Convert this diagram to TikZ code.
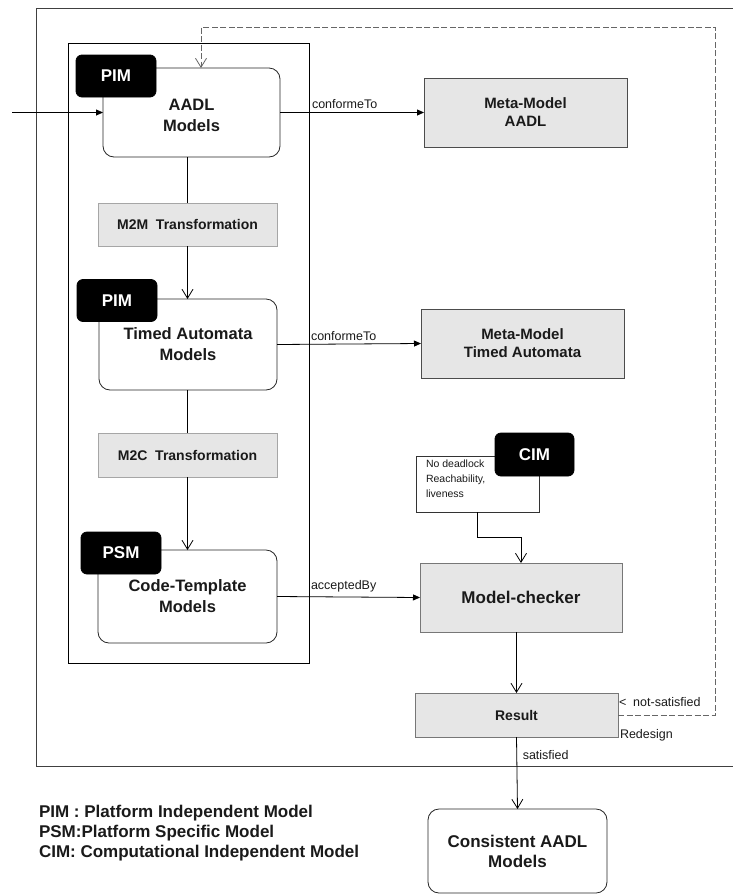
\documentclass[tikz,border=0pt]{standalone}
\usepackage{fontspec}
\setmainfont{Liberation Sans}
\usetikzlibrary{arrows.meta}
\definecolor{boxgrey}{HTML}{E6E6E6}
\definecolor{edgegrey}{HTML}{777777}
\definecolor{loopgrey}{HTML}{666666}
\definecolor{ink}{HTML}{1A1A1A}
\begin{document}
\begin{tikzpicture}[x=1pt,y=-1pt,line width=0.8pt,
  every node/.style={inner sep=0pt,outer sep=0pt,text=ink},
  model/.style={draw=black!85,fill=white,rounded corners=11pt,align=center,
    font=\fontsize{16.5}{21}\selectfont\bfseries},
  tag/.style={draw=black,fill=black,rounded corners=6pt,text=white,
    minimum width=80pt,minimum height=42pt,font=\fontsize{17}{20}\selectfont\bfseries},
  meta/.style={draw=black!70,fill=boxgrey,align=center,minimum width=203pt,minimum height=69pt,
    font=\fontsize{15}{18}\selectfont\bfseries},
  trans/.style={draw=black!35,fill=boxgrey,minimum width=179pt,minimum height=43pt,
    font=\fontsize{14}{16}\selectfont\bfseries},
  lbl/.style={font=\fontsize{12.5}{14}\selectfont},
  filled/.style={-{Triangle[length=7pt,width=6pt]}},
  openv/.style={-{Straight Barb[length=9pt,width=11pt,line width=0.8pt]}},
  frame/.style={draw=black!75,line width=0.9pt}
]
\useasboundingbox (0,0) rectangle (733,895);
\clip (0,0) rectangle (733,895);
\fill[white] (0,0) rectangle (733,895);

% outer frame (its right side lies beyond the page) and inner MDE column
\draw[frame] (745,8) -- (36,8) -- (36,766) -- (745,766);
\draw[line width=0.8pt] (68,43) rectangle (309,663);

% model column
\node[model,minimum width=177pt,minimum height=89pt] (aadl) at (191.5,112.5) {\\[-4pt]AADL\\Models};
\node[tag] (pim1) at (116,76) {PIM};
\node[trans] (m2m) at (187.5,224.5) {M2M\ \ Transformation};
\node[model,minimum width=178pt,minimum height=91pt] (ta) at (188,344.5) {Timed Automata\\Models};
\node[tag] (pim2) at (117,300.5) {PIM};
\node[trans,minimum height=44pt] (m2c) at (187.5,455) {M2C\ \ Transformation};
\node[model,minimum width=179pt,minimum height=93pt] (ct) at (187.5,596.5) {Code-Template\\Models};
\node[tag] (psm) at (121,553) {PSM};

% meta-models
\node[meta] (mmaadl) at (525.5,112.5) {Meta-Model\\AADL};
\node[meta] (mmta) at (522.5,343.5) {Meta-Model\\Timed Automata};

% properties and verification
\node[draw=black!80,fill=white,minimum width=123pt,minimum height=56pt] (props) at (477.5,484) {};
\node[anchor=north west,align=left,font=\fontsize{10.5}{15}\selectfont] (proptxt) at (426,460)
  {No deadlock\\Reachability,\\liveness};
\node[tag,minimum width=79pt,minimum height=43pt] (cim) at (534.5,454.5) {CIM};
\node[draw=edgegrey,fill=boxgrey,minimum width=202pt,minimum height=69pt,
  font=\fontsize{17}{20}\selectfont\bfseries] (mc) at (521,597.5) {Model-checker};
\node[draw=edgegrey,fill=boxgrey,minimum width=203pt,minimum height=44pt,
  font=\fontsize{14}{16}\selectfont\bfseries] (result) at (516.5,715) {Result};
\node[model,minimum width=179pt,minimum height=84pt,font=\fontsize{17}{20}\selectfont\bfseries]
  (cons) at (517.5,851) {Consistent AADL\\Models};

% connectors
\coordinate (entry) at (12,112.5);
\draw[filled] (entry) -- (aadl.west);
\draw[filled] (aadl.east) -- node[lbl,pos=0,anchor=south west,xshift=32pt,yshift=4pt] (c1) {conformeTo} (mmaadl.west);
\draw (m2m.north |- aadl.south) -- (m2m.north);
\draw[openv] (m2m.south) -- (m2m.south |- ta.north);
\draw[filled] (ta.east) -- node[lbl,pos=0,anchor=south west,xshift=34pt,yshift=4pt] (c2) {conformeTo} (mmta.west);
\draw (m2c.north |- ta.south) -- (m2c.north);
\draw[openv] (m2c.south) -- (ct.north);
\draw[filled] (ct.east) -- node[lbl,pos=0,anchor=south west,xshift=34pt,yshift=4pt] (c3) {acceptedBy} (mc.west);
\draw[openv] (props.south) -- ++(0,25) -| (mc.north);
\draw[openv] (mc.south -| result.north) -- (result.north);
\draw[openv] (result.south) -- node[lbl,pos=0.25,anchor=west,xshift=6pt] (sat) {satisfied} (cons.north);

% redesign loop back to the AADL models
\coordinate (loopR) at (715.5,27);
\coordinate (loopL) at (201,27);
\draw[openv,dashed,draw=loopgrey,dash pattern=on 6pt off 2.5pt] (result.east) -| (loopR) -- (loopL) -- (loopL |- aadl.north);
\node[lbl,anchor=west] (notsat) at (619,702) {<\ \ not-satisfied};
\node[lbl,anchor=west] (redesign) at (620,735) {Redesign};

% legend
\node[anchor=north west,align=left,font=\fontsize{17}{20}\selectfont\bfseries] (legend) at (39,805)
  {PIM : Platform Independent Model\\PSM:Platform Specific Model\\CIM: Computational Independent Model};
\end{tikzpicture}
\end{document}
